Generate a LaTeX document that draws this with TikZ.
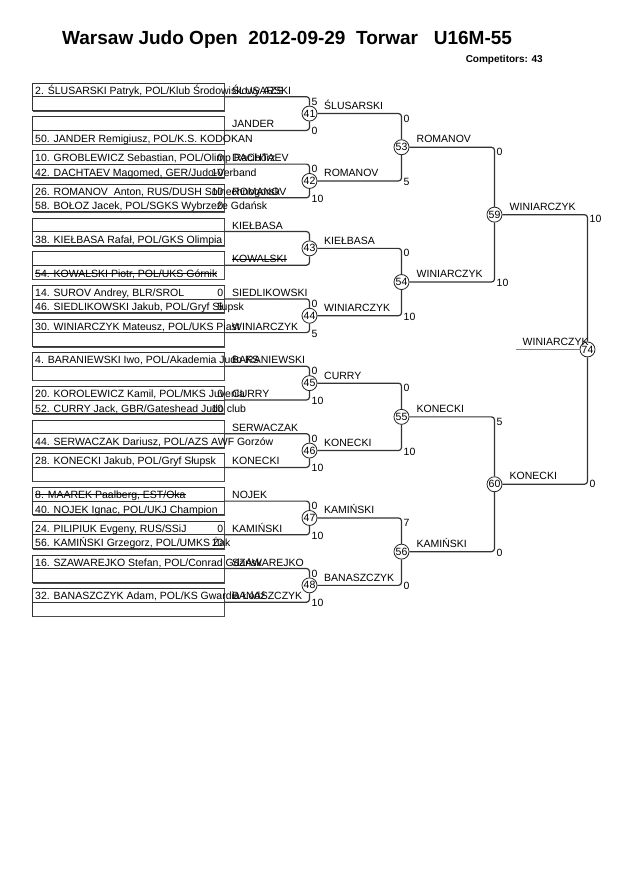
\documentclass[tikz,border=0pt]{standalone}
\usepackage{fontspec}
\setmainfont{Liberation Sans}
\newcommand\myfs{\fontsize{10.5}{12}\selectfont}
\newlength\strkw
\newcommand\strk[1]{\settowidth\strkw{#1}\rlap{\rule[0.33em]{\strkw}{0.7pt}}#1}
\tikzset{
  boxst/.style={draw=black!80, line width=0.7pt, minimum width=192pt, minimum height=27.3pt, inner sep=0pt},
  shadowst/.style={draw=black!70, line width=1pt},
  divst/.style={draw=black!80, line width=0.7pt},
  txt/.style={anchor=base west, inner sep=0pt, font=\myfs},
  scin/.style={anchor=base east, inner sep=0pt, font=\myfs},
  ln/.style={draw=black!80, line width=1.2pt, rounded corners=3pt},
  winln/.style={draw=black!50, line width=1.3pt},
  circ/.style={circle, draw=black!85, fill=white, line width=0.8pt, minimum size=15pt, inner sep=0pt, font=\myfs},
}
\newcommand\mkbox[6]{%
  \pgfmathsetmacro\dy{96.7+33.7*#1}%
  \node[boxst] (b#1) at (128,\dy) {};
  \draw[shadowst] ([xshift=1pt,yshift=-0.5pt]b#1.south west) -- ([xshift=0.5pt,yshift=-0.5pt]b#1.south east) -- ([xshift=0.5pt,yshift=-1pt]b#1.north east);
  \draw[divst] (b#1.west) -- (b#1.east);
  \node[txt] (bt#1) at (35,\dy-2.5) {#2};
  \node[scin] (st#1) at (223.5,\dy-2.5) {#3};
  \node[txt] (bb#1) at (35,\dy+12) {#4};
  \node[scin] (sb#1) at (223.5,\dy+12) {#5};
  \node[txt] (lb#1) at (232,\dy-2.5) {#6};
}
\begin{document}
\begin{tikzpicture}[x=1pt,y=-1pt]
\useasboundingbox[fill=white] (0,0) rectangle (630,891);

% title
\node[anchor=base west, inner sep=0pt, font=\fontsize{19}{22}\selectfont\bfseries] (title) at (62,45) {Warsaw Judo Open\ \ 2012-09-29\ \ Torwar\ \ \ U16M-55};
\node[anchor=base east, inner sep=0pt, font=\fontsize{10}{12}\selectfont\bfseries] (comp) at (543,63) {Competitors: 43};

% first round boxes
\mkbox{0}{2. ŚLUSARSKI Patryk, POL/Klub Środowiskowy AZS}{}{}{}{ŚLUSARSKI}
\mkbox{1}{}{}{50. JANDER Remigiusz, POL/K.S. KODOKAN}{}{JANDER}
\mkbox{2}{10. GROBLEWICZ Sebastian, POL/Olimp Racibórz}{0}{42. DACHTAEV Magomed, GER/Judo-Verband}{10}{DACHTAEV}
\mkbox{3}{26. ROMANOV\ \ Anton, RUS/DUSH Solnechnogorsk}{10}{58. BOŁOZ Jacek, POL/SGKS Wybrzeże Gdańsk}{0}{ROMANOV}
\mkbox{4}{}{}{38. KIEŁBASA Rafał, POL/GKS Olimpia}{}{KIEŁBASA}
\mkbox{5}{}{}{\strk{54. KOWALSKI Piotr, POL/UKS Górnik}}{}{\strk{KOWALSKI}}
\mkbox{6}{14. SUROV Andrey, BLR/SROL}{0}{46. SIEDLIKOWSKI Jakub, POL/Gryf Słupsk}{5}{SIEDLIKOWSKI}
\mkbox{7}{30. WINIARCZYK Mateusz, POL/UKS Piast}{}{}{}{WINIARCZYK}
\mkbox{8}{4. BARANIEWSKI Iwo, POL/Akademia Judo KS}{}{}{}{BARANIEWSKI}
\mkbox{9}{20. KOROLEWICZ Kamil, POL/MKS Juvenia}{0}{52. CURRY Jack, GBR/Gateshead Judo club}{10}{CURRY}
\mkbox{10}{}{}{44. SERWACZAK Dariusz, POL/AZS AWF Gorzów}{}{SERWACZAK}
\mkbox{11}{28. KONECKI Jakub, POL/Gryf Słupsk}{}{}{}{KONECKI}
\mkbox{12}{\strk{8. MAAREK Paalberg, EST/Oka}}{}{40. NOJEK Ignac, POL/UKJ Champion}{}{NOJEK}
\mkbox{13}{24. PILIPIUK Evgeny, RUS/SSiJ}{0}{56. KAMIŃSKI Grzegorz, POL/UMKS Żak}{10}{KAMIŃSKI}
\mkbox{14}{16. SZAWAREJKO Stefan, POL/Conrad Gdańsk}{}{}{}{SZAWAREJKO}
\mkbox{15}{32. BANASZCZYK Adam, POL/KS Gwardia Łódź}{}{}{}{BANASZCZYK}

% circles
\node[circ] (c41) at (309.5,113.55) {41};
\node[circ] (c42) at (309.5,180.95) {42};
\node[circ] (c43) at (309.5,248.35) {43};
\node[circ] (c44) at (309.5,315.75) {44};
\node[circ] (c45) at (309.5,383.15) {45};
\node[circ] (c46) at (309.5,450.55) {46};
\node[circ] (c47) at (309.5,517.95) {47};
\node[circ] (c48) at (309.5,585.35) {48};
\node[circ] (c53) at (401.5,147.25) {53};
\node[circ] (c54) at (401.5,282.05) {54};
\node[circ] (c55) at (401.5,416.85) {55};
\node[circ] (c56) at (401.5,551.65) {56};
\node[circ] (c59) at (494.5,214.65) {59};
\node[circ] (c60) at (494.5,484.25) {60};
\node[circ] (c74) at (587.5,349.45) {74};

% round 1 -> round 2 connectors
\draw[ln] (b0.east) -| (c41.north);  \draw[ln] (b1.east) -| (c41.south);
\draw[ln] (b2.east) -| (c42.north);  \draw[ln] (b3.east) -| (c42.south);
\draw[ln] (b4.east) -| (c43.north);  \draw[ln] (b5.east) -| (c43.south);
\draw[ln] (b6.east) -| (c44.north);  \draw[ln] (b7.east) -| (c44.south);
\draw[ln] (b8.east) -| (c45.north);  \draw[ln] (b9.east) -| (c45.south);
\draw[ln] (b10.east) -| (c46.north); \draw[ln] (b11.east) -| (c46.south);
\draw[ln] (b12.east) -| (c47.north); \draw[ln] (b13.east) -| (c47.south);
\draw[ln] (b14.east) -| (c48.north); \draw[ln] (b15.east) -| (c48.south);
% round 2 -> round 3
\draw[ln] (c41.east) -| (c53.north); \draw[ln] (c42.east) -| (c53.south);
\draw[ln] (c43.east) -| (c54.north); \draw[ln] (c44.east) -| (c54.south);
\draw[ln] (c45.east) -| (c55.north); \draw[ln] (c46.east) -| (c55.south);
\draw[ln] (c47.east) -| (c56.north); \draw[ln] (c48.east) -| (c56.south);
% round 3 -> round 4
\draw[ln] (c53.east) -| (c59.north); \draw[ln] (c54.east) -| (c59.south);
\draw[ln] (c55.east) -| (c60.north); \draw[ln] (c56.east) -| (c60.south);
% final
\draw[ln] (c59.east) -| (c74.north); \draw[ln] (c60.east) -| (c74.south);
\coordinate (wend) at (516,349.45);
\draw[winln] (wend) -- (c74.west);

% round 2 scores
\node[txt] at (311.5,105.2) {5};   \node[txt] at (311.5,134.9) {0};
\node[txt] at (311.5,172.6) {0};   \node[txt] at (311.5,202.3) {10};
\node[txt] at (311.5,307.4) {0};   \node[txt] at (311.5,337.1) {5};
\node[txt] at (311.5,374.8) {0};   \node[txt] at (311.5,404.5) {10};
\node[txt] at (311.5,442.2) {0};   \node[txt] at (311.5,471.9) {10};
\node[txt] at (311.5,509.6) {0};   \node[txt] at (311.5,539.3) {10};
\node[txt] at (311.5,577.0) {0};   \node[txt] at (311.5,606.7) {10};
% round 3 scores
\node[txt] at (403.5,122.05) {0};  \node[txt] at (403.5,185.45) {5};
\node[txt] at (403.5,256.85) {0};  \node[txt] at (403.5,320.25) {10};
\node[txt] at (403.5,391.65) {0};  \node[txt] at (403.5,455.05) {10};
\node[txt] at (403.5,526.45) {7};  \node[txt] at (403.5,589.85) {0};
% round 4 scores
\node[txt] at (496.5,155.75) {0};  \node[txt] at (496.5,286.55) {10};
\node[txt] at (496.5,425.35) {5};  \node[txt] at (496.5,556.15) {0};
% final scores
\node[txt] at (589.5,222.15) {10}; \node[txt] at (589.5,487.25) {0};

% winner labels
\node[txt] at (324,109.55) {ŚLUSARSKI};
\node[txt] at (324,176.95) {ROMANOV};
\node[txt] at (324,244.35) {KIEŁBASA};
\node[txt] at (324,311.75) {WINIARCZYK};
\node[txt] at (324,379.15) {CURRY};
\node[txt] at (324,446.55) {KONECKI};
\node[txt] at (324,513.95) {KAMIŃSKI};
\node[txt] at (324,581.35) {BANASZCZYK};
\node[txt] at (416.5,142.75) {ROMANOV};
\node[txt] at (416.5,277.55) {WINIARCZYK};
\node[txt] at (416.5,412.35) {KONECKI};
\node[txt] at (416.5,547.15) {KAMIŃSKI};
\node[txt] at (509.5,210.15) {WINIARCZYK};
\node[txt] at (509.5,479.75) {KONECKI};
\node[txt] at (522.5,345.5) {WINIARCZYK};
\end{tikzpicture}
\end{document}
